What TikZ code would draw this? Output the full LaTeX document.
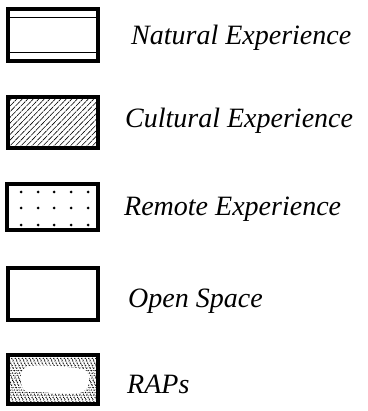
\documentclass[tikz,border=0pt]{standalone}
\usepackage{fontspec}
\setmainfont{Liberation Serif}
\begin{document}
\begin{tikzpicture}[x=1pt,y=-1pt,
  frame/.style={line width=4pt},
  legtext/.style={anchor=base west, inner sep=0pt, font=\fontsize{28}{32}\selectfont\itshape}]
\useasboundingbox (0,0) rectangle (367,411);
% Natural
\draw[frame] (8,9) rectangle (98,61);
\draw[line width=1.4pt] (8,17.5) -- (98,17.5);
\draw[line width=1.4pt] (8,52.5) -- (98,52.5);
\node[legtext] (nat) at (131,45) {Natural Experience};
% Cultural
\begin{scope}
  \clip (8,97) rectangle (98,148);
  \foreach \i in {-60,-54.5,...,100} \draw[line width=0.6pt, dash pattern=on 6pt off 0.8pt] (\i,150) -- (\i+58,90);
\end{scope}
\draw[frame] (8,97) rectangle (98,148);
\node[legtext] (cul) at (125,128) {Cultural Experience};
% Remote
\foreach \x in {21,38,54,71,88} \foreach \y in {192,208,225} \fill (\x,\y) circle (1.5);
\draw[frame] (7,184) rectangle (98,230);
\node[legtext] (rem) at (124,215) {Remote Experience};
% Open space
\draw[frame] (8,268) rectangle (98,320);
\node[legtext] (ope) at (128,307) {Open Space};
% RAPs
\begin{scope}
  \clip (8,355) rectangle (98,404);
  \foreach \i in {-60,-56.5,...,100} \draw[line width=0.8pt, dash pattern=on 1.3pt off 2pt] (\i,410) -- (\i+55,350);
  \foreach \i in {-58,-54.5,...,100} \draw[line width=0.6pt, dash pattern=on 0.8pt off 3pt] (\i,410) -- (\i+55,350);
  \fill[white, rounded corners=9pt] (20,368) .. controls (40,364) and (60,366) .. (90,370) -- (88,392) .. controls (60,395) and (40,391) .. (22,393) -- cycle;
\end{scope}
\draw[frame] (8,355) rectangle (98,404);
\node[legtext] (rap) at (127,393) {RAPs};
\end{tikzpicture}
\end{document}
